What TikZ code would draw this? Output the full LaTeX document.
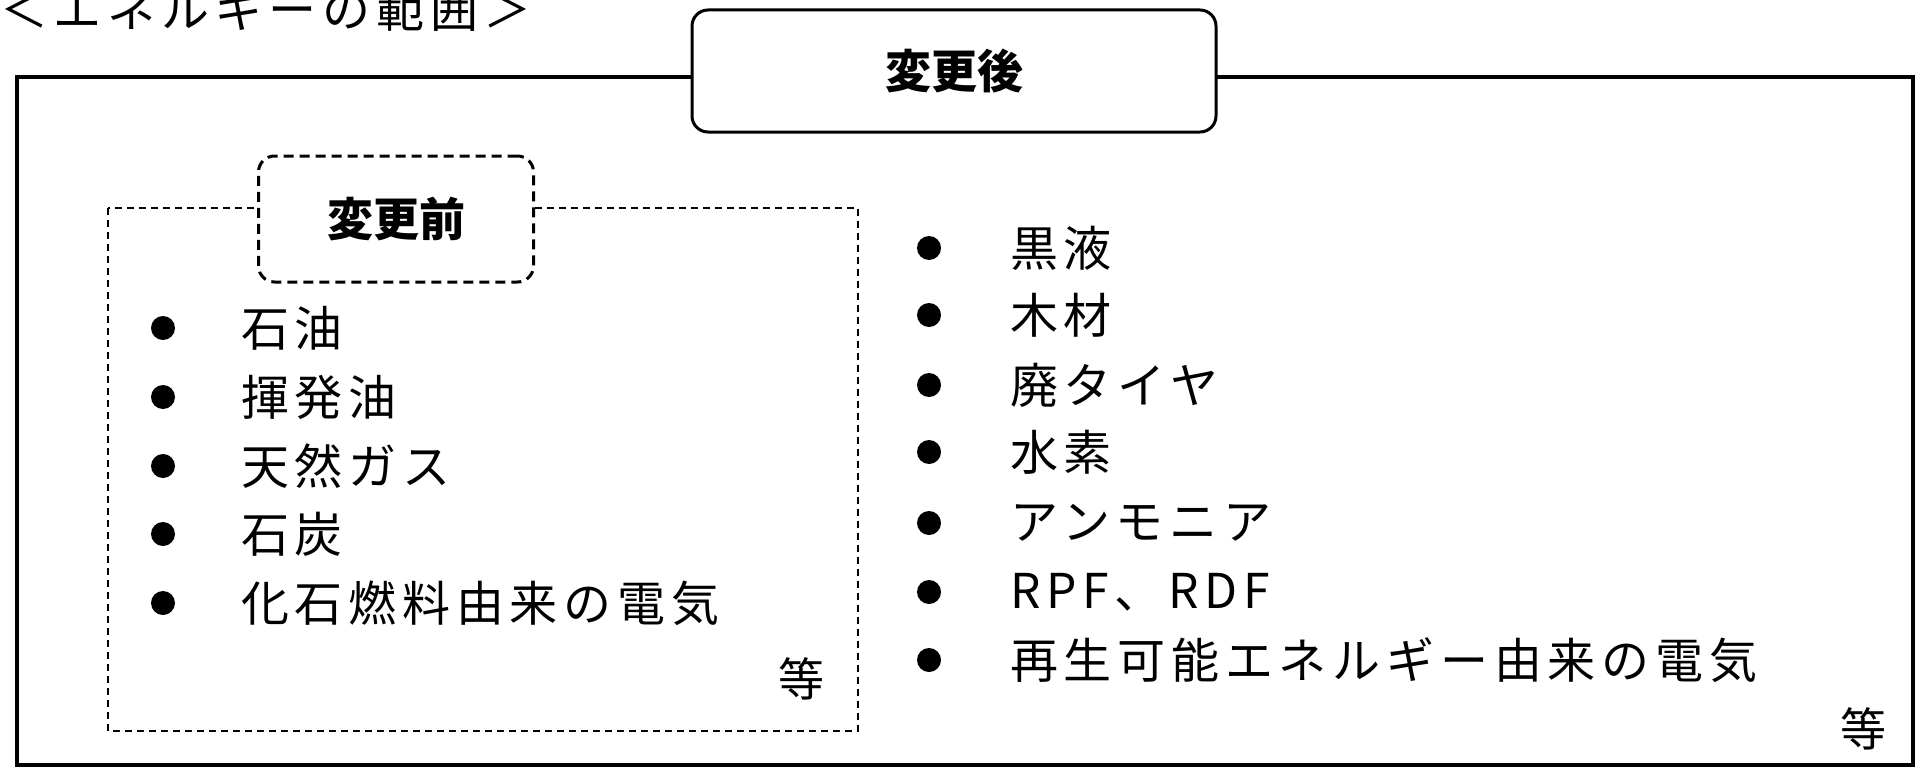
\documentclass[tikz,border=0pt]{standalone}
\usepackage{fontspec}
\newfontfamily\jp[LetterSpace=12]{Noto Sans CJK JP}
\newfontfamily\jpb{Noto Sans CJK JP}
\tikzset{
  frame/.style={draw, line width=3.5pt},
  dframe/.style={draw, line width=2pt, dash pattern=on 7pt off 5pt},
  afterbox/.style={draw, line width=3pt, rounded corners=16pt, fill=white,
    minimum width=524pt, minimum height=122pt, inner sep=0pt,
    font=\jpb\bfseries\fontsize{46}{50}\selectfont},
  beforebox/.style={draw, line width=3pt, dash pattern=on 10pt off 6pt,
    rounded corners=16pt, fill=white, minimum width=275pt, minimum height=126pt,
    inner sep=0pt, font=\jpb\bfseries\fontsize{46}{50}\selectfont},
  item/.style={anchor=west, inner sep=0pt, font=\jp\fontsize{48}{52}\selectfont},
  bullet/.style={circle, fill=black, minimum size=24pt, inner sep=0pt},
  etc/.style={inner sep=0pt, font=\jp\fontsize{46}{50}\selectfont},
}
\begin{document}
\begin{tikzpicture}[x=1pt, y=-1pt]
\useasboundingbox (0,0) rectangle (1917,768);
\node[anchor=west, inner sep=0pt, font=\jp\fontsize{48}{52}\selectfont] (title) at (0,9) {＜エネルギーの範囲＞};
\draw[frame] (17,77) rectangle (1913,765);
\node[afterbox] (after) at (954,71) {変更後};
\draw[dframe] (108,208) rectangle (858,731);
\node[beforebox] (before) at (396,219) {変更前};
% left list
\node[bullet] (lb1) at (163,328) {};
\node[item] (l1) at (241,328) {石油};
\node[bullet] (lb2) at (163,397) {};
\node[item] (l2) at (241,397) {揮発油};
\node[bullet] (lb3) at (163,466) {};
\node[item] (l3) at (241,466) {天然ガス};
\node[bullet] (lb4) at (163,534) {};
\node[item] (l4) at (241,534) {石炭};
\node[bullet] (lb5) at (163,603) {};
\node[item] (l5) at (241,603) {化石燃料由来の電気};
\node[etc] (letc) at (801,679) {等};
% right list
\node[bullet] (rb1) at (929,248) {};
\node[item] (r1) at (1010,248) {黒液};
\node[bullet] (rb2) at (929,315) {};
\node[item] (r2) at (1010,315) {木材};
\node[bullet] (rb3) at (929,385) {};
\node[item] (r3) at (1010,385) {廃タイヤ};
\node[bullet] (rb4) at (929,452) {};
\node[item] (r4) at (1010,452) {水素};
\node[bullet] (rb5) at (929,523) {};
\node[item] (r5) at (1010,523) {アンモニア};
\node[bullet] (rb6) at (929,592) {};
\node[item] (r6) at (1010,592) {RPF、RDF};
\node[bullet] (rb7) at (929,660) {};
\node[item] (r7) at (1010,660) {再生可能エネルギー由来の電気};
\node[etc] (retc) at (1863,729) {等};
\end{tikzpicture}
\end{document}
